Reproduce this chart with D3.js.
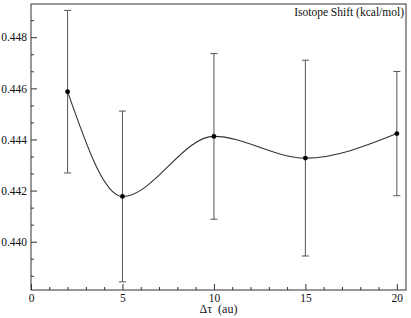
<!DOCTYPE html>
<html>
<head>
<meta charset="utf-8">
<script src="https://cdn.jsdelivr.net/npm/d3@7"></script>
<style>
  body { margin: 0; background: #fff; }
  svg { display: block; font-family: "Liberation Serif", "Times New Roman", "DejaVu Serif", serif; }
</style>
</head>
<body>
<svg id="chart" width="411" height="318"></svg>
<script>
const tau   = [2, 5, 10, 15, 20];
const shift = [0.44587, 0.44177, 0.44412, 0.44327, 0.44423];
const err   = [0.00318, 0.00334, 0.00324, 0.00383, 0.00243];
const xTicks = [0, 5, 10, 15, 20];
const yTicks = [0.440, 0.442, 0.444, 0.446, 0.448];

const width = 411, height = 318;
const plotL = 31, plotR = 406, plotT = 4, plotB = 290;
const svg = d3.select("#chart");
const serif = "'Liberation Serif', 'Times New Roman', 'DejaVu Serif', serif";

const x = d3.scaleLinear().domain([0, 20.5]).range([plotL, plotR]);
const y = d3.scaleLinear().domain([0.43811, 0.4493]).range([plotB, plotT]);

const ink = "#333";

// minor ticks
const xMinor = d3.range(0, 21, 1).filter(v => v % 5 !== 0);
const yMinor = d3.range(0, 17).map(i => 0.438 + i * 0.002 / 3)
    .filter(v => v > y.domain()[0] && v < y.domain()[1])
    .filter(v => Math.abs(Math.round(v / 0.002) * 0.002 - v) > 1e-6);

const gx = svg.append("g")
    .attr("transform", "translate(0," + plotB + ")")
    .call(d3.axisBottom(x).tickValues(xTicks).tickSize(-6).tickPadding(4).tickFormat(d3.format("d")));
const gxm = svg.append("g")
    .attr("transform", "translate(0," + plotB + ")")
    .call(d3.axisBottom(x).tickValues(xMinor).tickSize(-3).tickFormat(""));
const gy = svg.append("g")
    .attr("transform", "translate(" + plotL + ",0)")
    .call(d3.axisLeft(y).tickValues(yTicks).tickSize(-6).tickPadding(4).tickFormat(d3.format(".3f")));
const gym = svg.append("g")
    .attr("transform", "translate(" + plotL + ",0)")
    .call(d3.axisLeft(y).tickValues(yMinor).tickSize(-3).tickFormat(""));

[gx, gxm, gy, gym].forEach(g => {
    g.attr("font-family", serif).attr("font-size", 11.5);
    g.select(".domain").remove();
    g.selectAll("line").attr("stroke", ink);
    g.selectAll("text").attr("fill", "#111");
});

// frame
svg.append("rect")
    .attr("x", plotL).attr("y", plotT)
    .attr("width", plotR - plotL).attr("height", plotB - plotT)
    .attr("fill", "none").attr("stroke", ink).attr("stroke-width", 1);

const data = tau.map((t, i) => ({ t: t, v: shift[i], e: err[i] }));

// error bars
const eb = svg.append("g").attr("stroke", "#555").attr("stroke-width", 1);
eb.selectAll(".bar").data(data).join("line")
    .attr("x1", d => x(d.t)).attr("x2", d => x(d.t))
    .attr("y1", d => y(d.v - d.e)).attr("y2", d => y(d.v + d.e));
eb.selectAll(".capT").data(data).join("line")
    .attr("x1", d => x(d.t) - 3.5).attr("x2", d => x(d.t) + 3.5)
    .attr("y1", d => y(d.v + d.e)).attr("y2", d => y(d.v + d.e));
eb.selectAll(".capB").data(data).join("line")
    .attr("x1", d => x(d.t) - 3.5).attr("x2", d => x(d.t) + 3.5)
    .attr("y1", d => y(d.v - d.e)).attr("y2", d => y(d.v - d.e));

// smooth line
const line = d3.line().x(d => x(d.t)).y(d => y(d.v)).curve(d3.curveMonotoneX);
svg.append("path").datum(data)
    .attr("d", line).attr("fill", "none").attr("stroke", ink).attr("stroke-width", 1.1);

svg.selectAll(".pt").data(data).join("circle")
    .attr("cx", d => x(d.t)).attr("cy", d => y(d.v)).attr("r", 2.4).attr("fill", "#000");

// labels
svg.append("text")
    .attr("x", (plotL + plotR) / 2).attr("y", 313)
    .attr("text-anchor", "middle").attr("font-family", serif).attr("font-size", 12).attr("fill", "#111")
    .style("white-space", "pre")
    .text("Δτ  (au)");

svg.append("text")
    .attr("x", plotR - 2).attr("y", 16)
    .attr("text-anchor", "end").attr("font-family", serif).attr("font-size", 11.5).attr("fill", "#111")
    .text("Isotope Shift (kcal/mol)");
</script>
</body>
</html>
